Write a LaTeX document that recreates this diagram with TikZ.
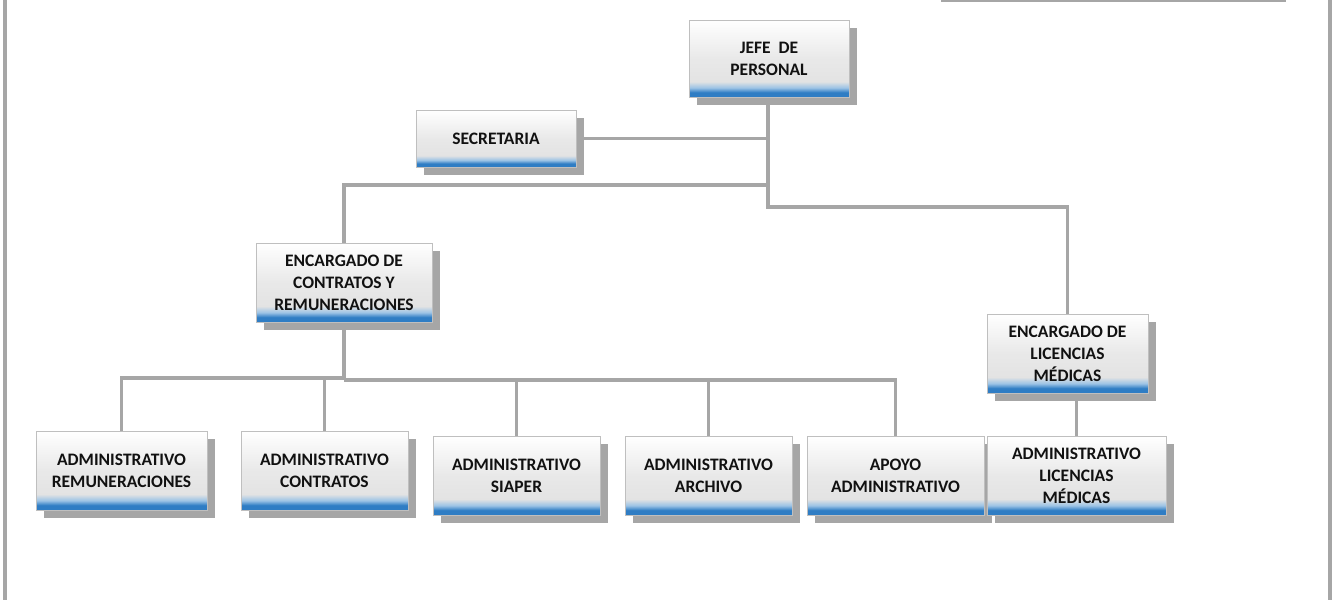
\documentclass[tikz,border=0pt]{standalone}
\usepackage{fontspec}
\setmainfont{Carlito}
\usetikzlibrary{shadows}
\definecolor{linegray}{HTML}{A6A6A6}
\definecolor{shadowgray}{HTML}{A6A6A6}
\definecolor{boxborder}{HTML}{BFBFBF}
\definecolor{banddark}{HTML}{2F7DC4}
\definecolor{bandlight}{HTML}{9CC3E5}
\definecolor{midgray}{HTML}{E3E3E3}
\definecolor{textblack}{HTML}{111111}
\pgfdeclareverticalshading{boxshade}{100bp}{color(0bp)=(banddark); color(25bp)=(banddark); color(28bp)=(banddark); color(31bp)=(bandlight); color(35bp)=(midgray); color(50bp)=(midgray!80!white); color(75bp)=(white); color(100bp)=(white)}
\pgfdeclarelayer{background}
\pgfsetlayers{background,main}
\tikzset{
  orgbox/.style={draw=boxborder, line width=1pt, shading=boxshade, align=center,
    font=\fontsize{17.5}{22}\selectfont\bfseries, text=textblack, inner sep=0pt,
    drop shadow={shadow xshift=8pt, shadow yshift=-8pt, fill=shadowgray, opacity=1, shadow scale=1}},
  conn/.style={draw=linegray, line width=3.5pt},
  frame/.style={draw=linegray, line width=3.5pt}
}
\begin{document}
\begin{tikzpicture}[x=1pt,y=-1pt]
\useasboundingbox (0,0) rectangle (1334,600);
% frame
\coordinate (fl1) at (5,0); \coordinate (fl2) at (5,600);
\coordinate (fr1) at (1330,0); \coordinate (fr2) at (1330,600);
\coordinate (ft1) at (941,0.8); \coordinate (ft2) at (1286,0.8);
\draw[frame] (fl1) -- (fl2);
\draw[frame] (fr1) -- (fr2);
\draw[frame, line width=3pt] (ft1) -- (ft2);

% nodes
\node[orgbox, minimum width=160pt, minimum height=77pt] (jefe) at (769,58.5) {JEFE\ \ DE\\PERSONAL};
\node[orgbox, minimum width=160pt, minimum height=57pt] (secre) at (496,138.5) {SECRETARIA};
\node[orgbox, minimum width=176pt, minimum height=79pt] (encC) at (344,282.5) {ENCARGADO DE\\CONTRATOS Y\\REMUNERACIONES};
\node[orgbox, minimum width=161pt, minimum height=79pt] (encL) at (1067.5,353.5) {ENCARGADO DE\\LICENCIAS\\MÉDICAS};
\node[orgbox, minimum width=171pt, minimum height=79pt] (ar) at (121.5,470.5) {ADMINISTRATIVO\\REMUNERACIONES};
\node[orgbox, minimum width=167pt, minimum height=79pt] (ac) at (324.5,470.5) {ADMINISTRATIVO\\CONTRATOS};
\node[orgbox, minimum width=167pt, minimum height=79pt] (as) at (516.5,475.5) {ADMINISTRATIVO\\SIAPER};
\node[orgbox, minimum width=167pt, minimum height=79pt] (aa) at (708.5,475.5) {ADMINISTRATIVO\\ARCHIVO};
\node[orgbox, minimum width=177pt, minimum height=79pt] (apoyo) at (895.5,475.5) {APOYO\\ADMINISTRATIVO};
\node[orgbox, minimum width=179pt, minimum height=79pt] (alm) at (1076.5,475.5) {ADMINISTRATIVO\\LICENCIAS\\MÉDICAS};

% connector junctions
\coordinate (jtop) at (768,97);
\coordinate (jb) at (768,207);
\coordinate (jm) at (768,185);
\coordinate (cl) at (344,378);
\coordinate (cr) at (344,380);

\begin{pgfonlayer}{background}
\draw[conn] (jtop) -- (jb) -- (jb -| encL.north) -- (encL.north);
\draw[conn] (secre.east) -- (secre.east -| jtop);
\draw[conn] (jm) -- (jm -| encC.north) -- (encC.north);
\draw[conn] (encC.south) -- (cr);
\draw[conn] (cl) -- (cl -| ar.north) -- (ar.north);
\draw[conn] (cl -| ac.north) -- (ac.north);
\draw[conn] (cr) -- (cr -| apoyo.north) -- (apoyo.north);
\draw[conn] (cr -| as.north) -- (as.north);
\draw[conn] (cr -| aa.north) -- (aa.north);
\draw[conn] (encL.south -| alm.north) -- (alm.north);
\end{pgfonlayer}
\end{tikzpicture}
\end{document}
